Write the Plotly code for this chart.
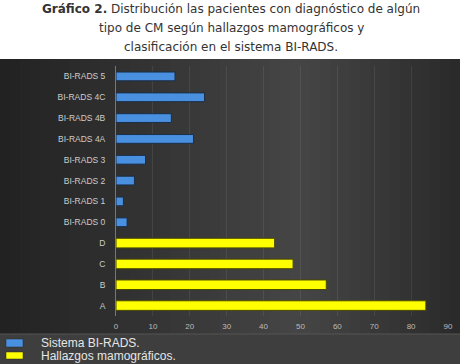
import plotly.graph_objects as go

birads_labels = ["BI-RADS 0", "BI-RADS 1", "BI-RADS 2", "BI-RADS 3",
                 "BI-RADS 4A", "BI-RADS 4B", "BI-RADS 4C", "BI-RADS 5"]
birads_values = [3, 2, 5, 8, 21, 15, 24, 16]
mamo_labels = ["A", "B", "C", "D"]
mamo_values = [84, 57, 48, 43]
x_ticks = [0, 10, 20, 30, 40, 50, 60, 70, 80, 90]
series_names = ["Sistema BI-RADS.", "Hallazgos mamográficos."]
series_colors = ["#4a90e0", "#ffff00"]
series_lines = ["#1a2f48", "#4a4a00"]

W, H = 460, 364
L, R, T, B = 116, 12, 66, 48
pw, ph = W - L - R, H - T - B

def px_x(x):
    return (x - L) / pw

def px_y(y):
    return (H - B - y) / ph

fig = go.Figure()
fig.add_trace(go.Bar(
    y=birads_labels, x=birads_values, orientation="h", name=series_names[0],
    marker=dict(color=series_colors[0], line=dict(color=series_lines[0], width=1)), width=0.42,
))
fig.add_trace(go.Bar(
    y=mamo_labels, x=mamo_values, orientation="h", name=series_names[1],
    marker=dict(color=series_colors[1], line=dict(color=series_lines[1], width=1)), width=0.46,
))

shapes = []
n = 46
def shade(t):
    if t < 0.65:
        v = 34 + (70 - 34) * (t / 0.65)
    else:
        v = 70 - (70 - 42) * ((t - 0.65) / 0.35)
    v = int(v)
    return f"rgb({v},{v},{v})"
for i in range(n):
    x0 = W * i / n
    x1 = W * (i + 1) / n + 0.6
    shapes.append(dict(type="rect", xref="paper", yref="paper", layer="below",
                       x0=px_x(x0), x1=px_x(x1), y0=px_y(334), y1=px_y(59),
                       fillcolor=shade((i + 0.5) / n), line=dict(width=0)))
shapes.append(dict(type="rect", xref="paper", yref="paper", layer="below",
                   x0=px_x(0), x1=px_x(W), y0=px_y(H + 2), y1=px_y(334),
                   fillcolor="#3e3e3e", line=dict(width=0)))
shapes.append(dict(type="line", xref="paper", yref="paper", layer="below",
                   x0=px_x(0), x1=px_x(W), y0=px_y(334), y1=px_y(334),
                   line=dict(color="#555555", width=1)))

# legend (drawn manually to match the compact spacing of the reference)
legend_rows = [(339, 347, 343), (352, 359, 356)]
for (y0, y1, yc), name, col in zip(legend_rows, series_names, series_colors):
    shapes.append(dict(type="rect", xref="paper", yref="paper",
                       x0=px_x(6), x1=px_x(23), y0=px_y(y1), y1=px_y(y0),
                       fillcolor=col, line=dict(color="#2a2a2a", width=0.5)))
    fig.add_annotation(text=name, xref="paper", yref="paper", x=px_x(39), y=px_y(yc),
                       xanchor="left", yanchor="middle", showarrow=False,
                       font=dict(family="Liberation Sans", size=12, color="#e6e6e6"))
fig.update_layout(shapes=shapes)

title_lines = [
    "<b>Gráfico 2.</b> Distribución las pacientes con diagnóstico de algún",
    "tipo de CM según hallazgos mamográficos y",
    "clasificación en el sistema BI-RADS.",
]
for i, t in enumerate(title_lines):
    fig.add_annotation(text=t, xref="paper", yref="paper", x=px_x(231), y=px_y(9 + 19 * i),
                       xanchor="center", yanchor="middle", showarrow=False,
                       font=dict(family="DejaVu Sans", size=12, color="#333333"))

fig.update_layout(
    width=W, height=H,
    margin=dict(l=L, r=R, t=T, b=B, pad=0, autoexpand=False),
    paper_bgcolor="white", plot_bgcolor="rgba(0,0,0,0)",
    barmode="overlay",
    showlegend=False,
    font=dict(family="Liberation Sans", color="#c8c8c8"),
    xaxis=dict(range=[0, 90], tickvals=x_ticks, showgrid=True, automargin=False,
               gridcolor="rgba(255,255,255,0.08)", gridwidth=1, zeroline=False,
               tickfont=dict(size=8, color="#bbbbbb"), ticks="", showline=False,
               ticklabelstandoff=4),
    yaxis=dict(categoryorder="array", automargin=False,
               categoryarray=mamo_labels + birads_labels,
               range=[-0.5, 11.5],
               showgrid=False, zeroline=False, showline=True, linecolor="#777777", linewidth=1,
               tickfont=dict(size=8.5, color="#cccccc"), ticks="", ticklabelstandoff=8),
)

fig.write_html("out.html", config={"displayModeBar": False},
               post_script="document.body.style.margin='0';document.body.style.overflow='hidden';")
